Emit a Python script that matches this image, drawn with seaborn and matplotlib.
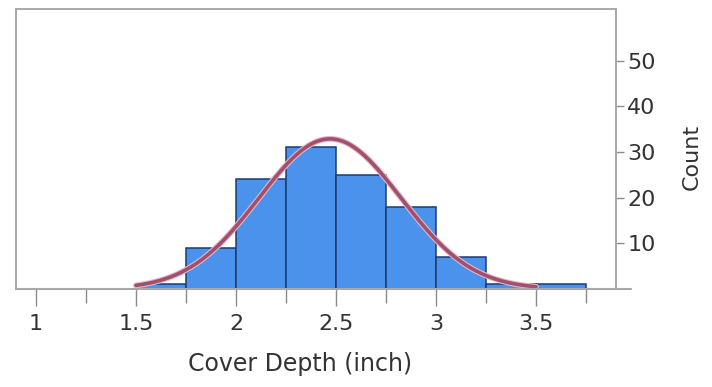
import numpy as np
import pandas as pd
import matplotlib
matplotlib.use("Agg")
import matplotlib.pyplot as plt
import matplotlib.patheffects as pe
from matplotlib.ticker import FixedLocator
import seaborn as sns

# Histogram of cover depth: bin edges and counts per bin
bin_edges = [1.5, 1.75, 2.0, 2.25, 2.5, 2.75, 3.0, 3.25, 3.5, 3.75]
counts = [1, 9, 24, 31, 25, 18, 7, 1, 1]

# Fitted normal curve parameters (inch)
fit_mean = 2.47
fit_sd = 0.355

x_ticks = [1, 1.5, 2, 2.5, 3, 3.5]
x_tick_labels = ["1", "1.5", "2", "2.5", "3", "3.5"]
x_minor_ticks = [1.25, 1.75, 2.25, 2.75, 3.25, 3.75]
y_ticks = [10, 20, 30, 40, 50]
y_tick_labels = ["10", "20", "30", "40", "50"]

centers = [(a + b) / 2 for a, b in zip(bin_edges[:-1], bin_edges[1:])]
hist_df = pd.DataFrame({"depth": centers, "count": counts})

bin_width = bin_edges[1] - bin_edges[0]
n_total = sum(counts)
curve_x = np.linspace(bin_edges[0], 3.5, 300)
curve_y = (n_total * bin_width / (fit_sd * np.sqrt(2 * np.pi))
           * np.exp(-0.5 * ((curve_x - fit_mean) / fit_sd) ** 2))
curve_df = pd.DataFrame({"depth": curve_x, "count": curve_y})

sns.set_style("white")
plt.rcParams["font.family"] = ["DejaVu Sans"]

fig = plt.figure(figsize=(7.12, 3.87), dpi=100)
ax = fig.add_axes([16 / 712, 1 - 289 / 387, 600 / 712, 280 / 387])

sns.histplot(data=hist_df, x="depth", weights="count", bins=bin_edges,
             color="#4a92ec", edgecolor="#1c3b72", linewidth=1.1,
             alpha=1.0, ax=ax)

sns.lineplot(data=curve_df, x="depth", y="count", color="#a0506e",
             linewidth=2.6, ax=ax,
             path_effects=[pe.Stroke(linewidth=4.2, foreground="#e6b6c4"),
                           pe.Normal()])

ax.set_xlim(0.9, 3.9)
ax.set_ylim(0, 61.3)

frame_col = "#a8a8a8"
for side in ("left", "top", "right"):
    ax.spines[side].set_visible(True)
    ax.spines[side].set_color(frame_col)
    ax.spines[side].set_linewidth(1.4)
ax.spines["bottom"].set_visible(False)
ax.plot([0, 1.025], [0, 0], transform=ax.transAxes, color=frame_col,
        linewidth=1.5, clip_on=False, zorder=5)

ax.xaxis.set_major_locator(FixedLocator(x_ticks))
ax.xaxis.set_minor_locator(FixedLocator(x_minor_ticks))
ax.set_xticklabels(x_tick_labels)
ax.tick_params(axis="x", which="major", direction="out", bottom=True,
               length=12, width=1.0, color="#8a8a8a", pad=6,
               labelsize=16, labelcolor="#333333")
ax.tick_params(axis="x", which="minor", direction="out", bottom=True,
               length=10, width=1.0, color="#8a8a8a")

ax.yaxis.tick_right()
ax.yaxis.set_label_position("right")
ax.set_yticks(y_ticks)
ax.set_yticklabels(y_tick_labels)
ax.tick_params(axis="y", which="both", direction="out", right=True, left=False,
               length=6, width=1.0, color="#8a8a8a", pad=2,
               labelsize=16, labelcolor="#333333")

ax.set_xlabel("Cover Depth (inch)", fontsize=17, color="#333333")
ax.xaxis.set_label_coords(0.473, -0.225)
ax.set_ylabel("Count", fontsize=16, color="#333333")
ax.yaxis.set_label_coords(1.11, 0.47)

fig.savefig("out.png", dpi=100, facecolor="white")
